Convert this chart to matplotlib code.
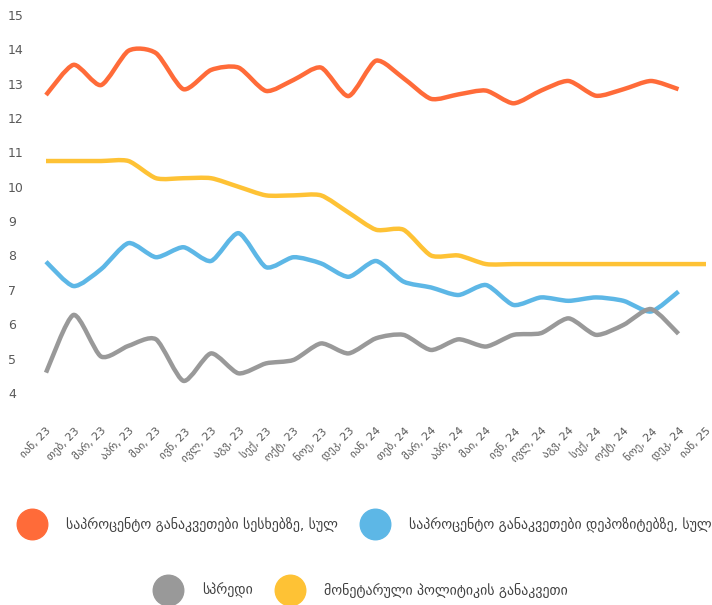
import numpy as np
import matplotlib
matplotlib.use('Agg')
import matplotlib.pyplot as plt
from matplotlib.path import Path
from matplotlib.patches import PathPatch
from matplotlib.lines import Line2D
import matplotlib.transforms as mtransforms

plt.rcParams['font.family'] = ['DejaVu Sans']

# x labels (Georgian months)
months = ['იან', 'თებ', 'მარ', 'აპრ', 'მაი', 'ივნ', 'ივლ', 'აგვ', 'სექ', 'ოქტ', 'ნოე', 'დეკ']
xlabels = [m + ', 23' for m in months] + [m + ', 24' for m in months] + ['იან, 25']

loans = [12.92, 13.80, 13.21, 14.21, 14.14, 13.09, 13.65, 13.72, 13.04, 13.36, 13.72, 12.89,
         13.92, 13.41, 12.81, 12.94, 13.05, 12.68, 13.05, 13.33, 12.90, 13.09, 13.33, 13.09]
deposits = [8.07, 7.36, 7.85, 8.61, 8.20, 8.49, 8.09, 8.90, 7.91, 8.20, 8.02, 7.63,
            8.09, 7.49, 7.32, 7.10, 7.39, 6.81, 7.03, 6.93, 7.03, 6.93, 6.62, 7.20]
spread = [4.84, 6.52, 5.31, 5.62, 5.81, 4.60, 5.40, 4.82, 5.11, 5.21, 5.69, 5.40,
          5.84, 5.94, 5.50, 5.81, 5.60, 5.94, 5.99, 6.42, 5.94, 6.23, 6.69, 5.97]
policy = [11.0, 11.0, 11.0, 11.0, 10.5, 10.5, 10.5, 10.25, 10.0, 10.0, 10.0, 9.5,
          9.0, 9.0, 8.25, 8.25, 8.0, 8.0, 8.0, 8.0, 8.0, 8.0, 8.0, 8.0, 8.0]

names = ['საპროცენტო განაკვეთები სესხებზე, სულ',
         'საპროცენტო განაკვეთები დეპოზიტებზე, სულ',
         'სპრედი',
         'მონეტარული პოლიტიკის განაკვეთი']
colors = ['#ff6b39', '#5db7e6', '#999999', '#fec235']
yticks = list(range(4, 16))


def smooth_path(y, k=0.12):
    # bezier through the points (excel-like smoothed line)
    x = np.arange(len(y), dtype=float)
    y = np.asarray(y, dtype=float)
    n = len(y)
    verts = [(x[0], y[0])]
    codes = [Path.MOVETO]
    for i in range(n - 1):
        p0 = max(i - 1, 0)
        p3 = min(i + 2, n - 1)
        c1 = (x[i] + (x[i + 1] - x[p0]) * k, y[i] + (y[i + 1] - y[p0]) * k)
        c2 = (x[i + 1] - (x[p3] - x[i]) * k, y[i + 1] - (y[p3] - y[i]) * k)
        verts += [c1, c2, (x[i + 1], y[i + 1])]
        codes += [Path.CURVE4] * 3
    return Path(verts, codes)


W, H = 712, 605
fig = plt.figure(figsize=(W / 100, H / 100), dpi=100)
ax = fig.add_axes([46 / W, 1 - 401.5 / H, 660 / W, (401.5 - 23.6) / H])

for vals, c in zip([loans, deposits, spread, policy], colors):
    patch = PathPatch(smooth_path(vals), fill=False, edgecolor=c, lw=3.2,
                      capstyle='butt', joinstyle='round', clip_on=False)
    ax.add_patch(patch)

ax.set_xlim(0, 24)
ax.set_ylim(4, 15)
for s in ax.spines.values():
    s.set_visible(False)

ax.set_xticks(range(len(xlabels)))
ax.set_xticklabels(xlabels, rotation=45, ha='right', va='top', rotation_mode='anchor',
                   fontsize=8, color='#595959')
ax.tick_params(axis='x', length=0, pad=17)

ax.set_yticks(yticks)
ax.set_yticklabels([str(v) for v in yticks], fontsize=9, color='#595959',
                   family=['Liberation Sans Narrow', 'DejaVu Sans'])
ax.tick_params(axis='y', length=0, pad=38 / 100 * 72)
up = mtransforms.ScaledTranslation(0, 8.6 / 100, fig.dpi_scale_trans)
for lab in ax.get_yticklabels():
    lab.set_horizontalalignment('left')
    lab.set_transform(lab.get_transform() + up)

# legend
leg_pos = [(32, 524), (375, 524), (168, 590), (290, 590)]
for (px, py), c, name in zip(leg_pos, colors, names):
    fig.add_artist(Line2D([px / W], [1 - py / H], marker='o', markersize=22,
                          color=c, lw=0, transform=fig.transFigure))
    fig.text((px + 34) / W, 1 - py / H, name, fontsize=10, color='#404040',
             va='center', ha='left')

fig.savefig('out.png', dpi=100)
